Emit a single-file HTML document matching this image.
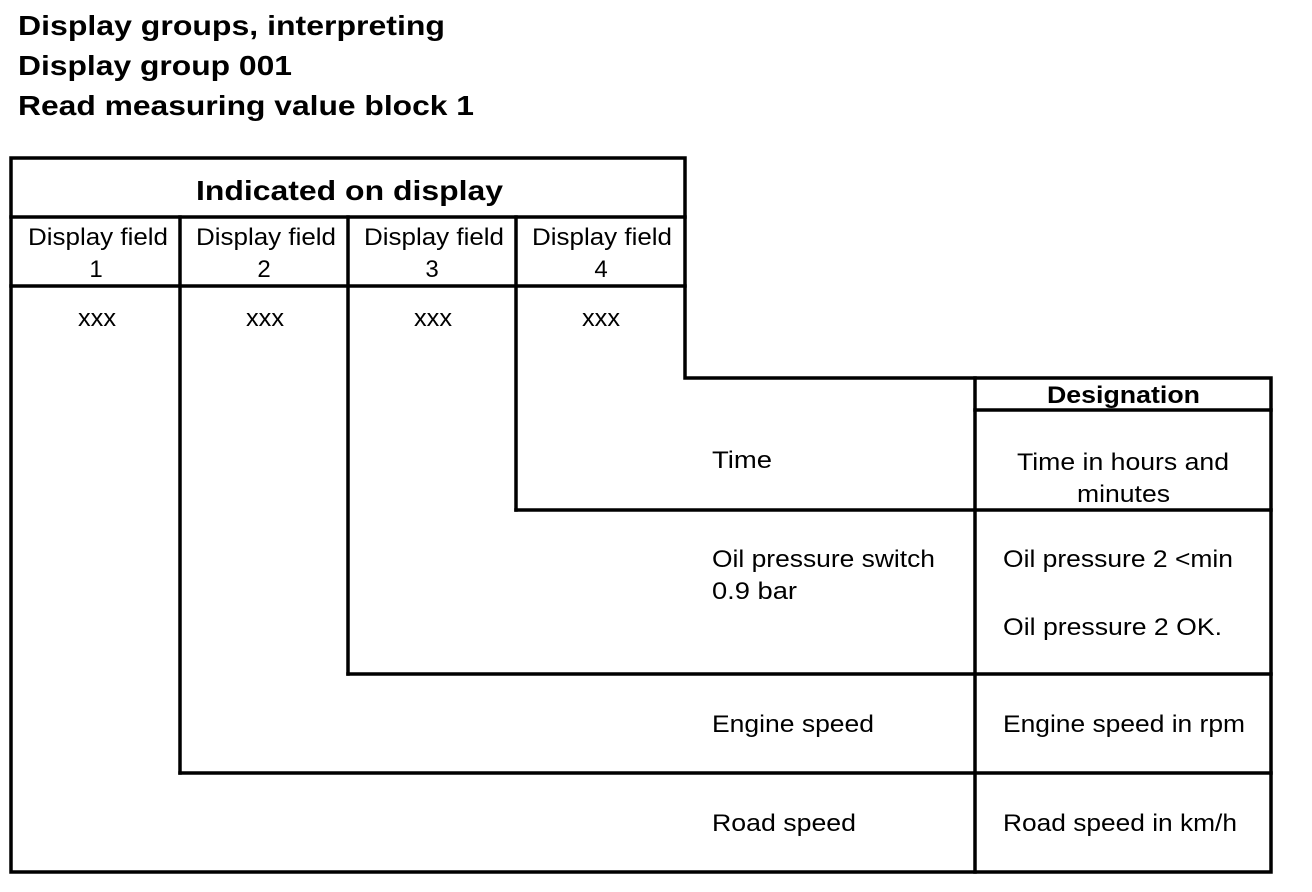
<!DOCTYPE html>
<html><head><meta charset="utf-8"><style>
html,body{margin:0;padding:0;background:#fff;}
svg{display:block;}
text{font-family:"Liberation Sans",Arial,sans-serif;fill:#000;}
</style></head><body>
<svg width="1312" height="892" viewBox="0 0 1312 892" xmlns="http://www.w3.org/2000/svg">
<g font-size="28" font-weight="bold">
<text x="18" y="35" textLength="427" lengthAdjust="spacingAndGlyphs">Display groups, interpreting</text>
<text x="18" y="75" textLength="274" lengthAdjust="spacingAndGlyphs">Display group 001</text>
<text x="18" y="115" textLength="456" lengthAdjust="spacingAndGlyphs">Read measuring value block 1</text>
</g>
<g stroke="#000" stroke-width="3.5" fill="none" stroke-linecap="square">
<polyline points="11,872 11,158 685,158 685,378 1271,378 1271,872 11,872"/>
<line x1="11" y1="217" x2="685" y2="217"/>
<line x1="11" y1="286" x2="685" y2="286"/>
<line x1="180" y1="217" x2="180" y2="773"/>
<line x1="348" y1="217" x2="348" y2="674"/>
<line x1="516" y1="217" x2="516" y2="510"/>
<line x1="516" y1="510" x2="1271" y2="510"/>
<line x1="348" y1="674" x2="1271" y2="674"/>
<line x1="180" y1="773" x2="1271" y2="773"/>
<line x1="975" y1="378" x2="975" y2="872"/>
<line x1="975" y1="410" x2="1271" y2="410"/>
</g>
<text x="196" y="200" font-size="28" font-weight="bold" textLength="307" lengthAdjust="spacingAndGlyphs">Indicated on display</text>
<g font-size="24">
<text x="28" y="245" textLength="140" lengthAdjust="spacingAndGlyphs">Display field</text>
<text x="196" y="245" textLength="140" lengthAdjust="spacingAndGlyphs">Display field</text>
<text x="364" y="245" textLength="140" lengthAdjust="spacingAndGlyphs">Display field</text>
<text x="532" y="245" textLength="140" lengthAdjust="spacingAndGlyphs">Display field</text>
<text x="78" y="326" textLength="38" lengthAdjust="spacingAndGlyphs">xxx</text>
<text x="246" y="326" textLength="38" lengthAdjust="spacingAndGlyphs">xxx</text>
<text x="414" y="326" textLength="38" lengthAdjust="spacingAndGlyphs">xxx</text>
<text x="582" y="326" textLength="38" lengthAdjust="spacingAndGlyphs">xxx</text>
<text x="1047" y="403" font-weight="bold" textLength="153" lengthAdjust="spacingAndGlyphs">Designation</text>
<text x="1017" y="470" textLength="212" lengthAdjust="spacingAndGlyphs">Time in hours and</text>
<text x="1077" y="502" textLength="93" lengthAdjust="spacingAndGlyphs">minutes</text>
<text x="712" y="468" textLength="60" lengthAdjust="spacingAndGlyphs">Time</text>
<text x="712" y="567" textLength="223" lengthAdjust="spacingAndGlyphs">Oil pressure switch</text>
<text x="712" y="599" textLength="85" lengthAdjust="spacingAndGlyphs">0.9 bar</text>
<text x="712" y="732" textLength="162" lengthAdjust="spacingAndGlyphs">Engine speed</text>
<text x="712" y="831" textLength="144" lengthAdjust="spacingAndGlyphs">Road speed</text>
<text x="1003" y="567" textLength="230" lengthAdjust="spacingAndGlyphs">Oil pressure 2 &lt;min</text>
<text x="1003" y="635" textLength="219" lengthAdjust="spacingAndGlyphs">Oil pressure 2 OK.</text>
<text x="1003" y="732" textLength="242" lengthAdjust="spacingAndGlyphs">Engine speed in rpm</text>
<text x="1003" y="831" textLength="234" lengthAdjust="spacingAndGlyphs">Road speed in km/h</text>
</g>
<g font-size="24" text-anchor="middle">
<text x="96" y="277">1</text>
<text x="264" y="277">2</text>
<text x="432" y="277">3</text>
<text x="601" y="277">4</text>
</g>
</svg>
</body></html>
